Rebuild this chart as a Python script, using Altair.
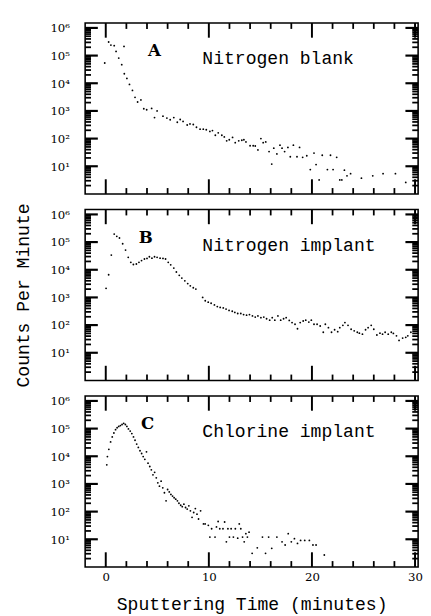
import altair as alt
import pandas as pd

# ---------------- data ----------------
# Panel A: Nitrogen blank
time_a = [-0.1, 0.28, 0.5, 0.82, 1.0, 1.26, 1.55, 1.77, 1.8, 2.05, 2.3, 2.59, 2.84, 3.09, 3.41,
          3.69, 3.97, 4.45, 4.73, 4.98, 5.55, 5.93, 6.25, 6.6, 6.94, 7.22, 7.5, 7.9, 8.17, 8.49,
          8.8, 9.15, 9.46, 9.75, 10.1, 10.35, 10.63, 10.91, 11.26, 11.5, 11.73, 11.98, 12.3, 12.56,
          12.9, 13.2, 13.4, 13.6, 14.0, 14.3, 14.5, 14.76, 15.05, 15.27, 15.52, 15.84, 16.1, 16.3,
          16.6, 16.9, 17.1, 17.35, 17.67, 17.9, 18.2, 18.55, 18.8, 19.1, 19.5, 19.84, 20.2, 20.4,
          20.7, 21.0, 21.5, 21.8, 22.05, 22.4, 22.7, 22.9, 23.15, 23.4, 23.75, 24.8, 25.9, 26.9,
          28.1, 29.1]
counts_a = [54000, 309000, 240000, 229000, 141000, 81000, 47000, 214000, 22000, 15000, 9100, 5500,
            3100, 2100, 2500, 1200, 1100, 1230, 575, 1000, 646, 550, 479, 575, 389, 490, 417, 309,
            339, 324, 257, 219, 219, 209, 182, 195, 132, 162, 132, 115, 83, 91, 110, 71, 83, 87, 91,
            76, 55, 55, 54, 39, 100, 71, 76, 34, 12, 45, 28, 58, 45, 34, 48, 22, 58, 22, 48, 21, 24,
            7.6, 30, 11.5, 3.2, 25, 7.6, 25, 7.6, 21, 3.2, 3.2, 7.2, 4.5, 5.4, 3.7, 4.5, 5.4, 5.4, 2.6]

# Panel B: Nitrogen implant
time_b = [0.03, 0.28, 0.54, 0.82, 1.07, 1.33, 1.64, 1.92, 2.18, 2.43, 2.68, 2.97, 3.22, 3.47, 3.75,
          4.0, 4.23, 4.48, 4.73, 4.98, 5.27, 5.55, 5.8, 6.06, 6.3, 6.6, 6.85, 7.13, 7.38, 7.67, 7.95,
          8.2, 8.49, 8.74, 9.4, 9.65, 9.94, 10.22, 10.54, 10.82, 11.1, 11.4, 11.67, 11.96, 12.27,
          12.52, 12.8, 13.1, 13.37, 13.66, 13.94, 14.23, 14.5, 14.76, 15.05, 15.33, 15.6, 15.9,
          16.15, 16.4, 16.7, 16.97, 17.25, 17.5, 17.8, 18.07, 18.36, 18.6, 18.86, 19.15, 19.4, 19.7,
          19.94, 20.2, 20.5, 20.8, 21.1, 21.3, 21.6, 21.9, 22.2, 22.5, 22.7, 23.0, 23.2, 23.5, 23.8,
          24.1, 24.4, 24.6, 24.9, 25.2, 25.45, 25.75, 26.0, 26.3, 26.6, 26.85, 27.1, 27.4, 27.7,
          27.9, 28.2, 28.45, 28.8, 29.1, 29.3, 29.6]
counts_b = [2140, 6610, 33900, 195000, 162000, 141000, 87100, 51300, 28200, 18600, 15500, 16200,
            18600, 21400, 24500, 25700, 29500, 26300, 29500, 28200, 26300, 25700, 24500, 18600,
            15100, 11500, 8320, 6310, 5010, 3980, 3160, 2630, 2240, 2000, 1000, 759, 676, 617, 537,
            468, 437, 417, 380, 339, 316, 288, 263, 263, 240, 229, 240, 214, 195, 214, 186, 195,
            170, 151, 186, 151, 214, 151, 170, 186, 148, 123, 107, 74, 123, 141, 151, 129, 151, 107,
            107, 93, 55, 107, 81, 55, 68, 58, 81, 98, 123, 98, 71, 62, 55, 51, 47, 68, 81, 98, 71,
            44, 51, 47, 55, 47, 55, 50, 41, 28, 34, 36, 41, 55]

# Panel C: Chlorine implant
time_c = [0.1, 0.16, 0.3, 0.47, 0.63, 0.79, 0.95, 1.1, 1.26, 1.42, 1.58, 1.74, 1.9, 2.05, 2.2, 2.37,
          2.53, 2.69, 2.84, 3.0, 3.16, 3.32, 3.48, 3.63, 3.79, 3.95, 4.1, 4.27, 4.42, 4.58, 4.74,
          4.9, 5.05, 5.21, 5.37, 5.53, 5.69, 5.85, 6.0, 6.16, 6.32, 6.48, 6.63, 6.79, 6.95, 7.1,
          7.27, 7.42, 7.58, 7.74, 7.9, 8.06, 8.21, 8.37, 8.53, 8.69, 8.85, 9.0, 9.2, 9.48, 9.64,
          9.95, 10.1, 10.27, 10.6, 10.74, 10.9, 11.06, 11.37, 11.53, 11.7, 11.85, 12.0, 12.16,
          12.38, 12.57, 12.8, 12.95, 13.1, 13.27, 13.43, 13.59, 13.74, 13.9, 14.2, 14.7, 15.2,
          15.5, 15.8, 16.1, 16.6, 17.1, 17.4, 17.7, 18.0, 18.3, 18.6, 18.9, 19.3, 19.75, 20.1,
          20.4, 21.2]
counts_c = [4900, 9770, 17800, 33100, 50100, 69200, 91200, 107000, 120000, 129000, 141000, 155000,
            141000, 120000, 97700, 81300, 66100, 50100, 38000, 27500, 20900, 15800, 12600, 9770,
            7760, 14500, 5620, 4270, 3240, 2140, 2630, 1660, 1100, 832, 1260, 724, 479, 245, 631,
            513, 417, 363, 316, 282, 245, 200, 170, 151, 186, 141, 123, 162, 107, 62, 93, 129, 81,
            54, 107, 36, 36, 32, 12, 24, 12, 28, 44, 24, 24, 42, 8.1, 24, 12, 24, 12, 24, 11, 36,
            24, 12, 8.1, 16, 12, 18, 3.1, 4.9, 12, 3.1, 12, 4.7, 12, 8.1, 6.2, 16, 8.1, 10.5, 7.1,
            9.1, 9.1, 9.1, 6.2, 6.2, 2.7]

panel_letters = ["A", "B", "C"]
panel_names = ["Nitrogen blank", "Nitrogen implant", "Chlorine implant"]

x_major = [0, 10, 20, 30]
x_minor = [2, 4, 6, 8, 12, 14, 16, 18, 22, 24, 26, 28]
y_major = [10, 100, 1000, 10000, 100000, 1000000]
y_minor = [k * 10 ** n for n in range(0, 6) for k in range(2, 10)]

# ---------------- styling ----------------
W, H = 341, 175
XDOM = [-2.0, 30.3]
YDOM = [1, 1.5e6]
MONO = "Liberation Mono"
SERIF = "DejaVu Serif"

xs = alt.Scale(domain=XDOM, nice=False, zero=False)
ys = alt.Scale(type="log", domain=YDOM, nice=False)

sup_expr = "'10' + ['\u2070','\u00b9','\u00b2','\u00b3','\u2074','\u2075','\u2076'][round(log(datum.value)/LN10)]"


def panel(t, c, letter, letter_x, name, bottom, ytitle):
    xaxis_kw = dict(values=x_major, ticks=False, domain=False, grid=False, labels=bottom,
                    labelFont=SERIF, labelFontSize=12, labelPadding=5, labelColor="black",
                    labelFlush=False, titleFont=MONO, titleFontSize=18.5,
                    titleFontWeight="normal", titleColor="black", titlePadding=13)
    yaxis_kw = dict(values=y_major, ticks=False, domain=False, grid=False,
                    labelExpr=sup_expr, labelFont=SERIF, labelFontSize=12, labelPadding=16,
                    labelColor="black", titleFont=MONO, titleFontSize=18.5,
                    titleFontWeight="normal", titleColor="black", titlePadding=18)
    xt = "Sputtering Time (minutes)" if bottom else ""
    yt = "Counts Per Minute" if ytitle else ""

    df = pd.DataFrame({"t": t, "c": c})
    pts = alt.Chart(df).mark_circle(size=3.5, color="black", opacity=1).encode(
        x=alt.X("t:Q", scale=xs, axis=alt.Axis(**xaxis_kw), title=xt),
        y=alt.Y("c:Q", scale=ys, axis=alt.Axis(**yaxis_kw), title=yt),
    )

    def x_ticks(vals, L, top, sw):
        y0 = 0 if top else H
        y1 = L if top else H - L
        return alt.Chart(pd.DataFrame({"t": vals})).mark_rule(
            strokeWidth=sw, color="black"
        ).encode(x=alt.X("t:Q", scale=xs, title=xt), y=alt.value(y0), y2=alt.value(y1))

    def y_ticks(vals, L, right, sw):
        x0 = W if right else 0
        x1 = W - L if right else L
        return alt.Chart(pd.DataFrame({"c": vals})).mark_rule(
            strokeWidth=sw, color="black"
        ).encode(y=alt.Y("c:Q", scale=ys, title=yt), x=alt.value(x0), x2=alt.value(x1))

    frame = alt.Chart(pd.DataFrame({"s": [letter]})).mark_rect(
        filled=False, color="black", strokeWidth=1.6
    ).encode(x=alt.value(0), x2=alt.value(W), y=alt.value(0), y2=alt.value(H))

    let = alt.Chart(pd.DataFrame({"s": [letter]})).mark_text(
        font=SERIF, fontWeight="bold", fontSize=17, align="center", baseline="middle", color="black"
    ).encode(x=alt.value(letter_x), y=alt.value(29), text="s:N")
    nm = alt.Chart(pd.DataFrame({"s": [name]})).mark_text(
        font=MONO, fontSize=18.5, align="left", baseline="alphabetic", color="black"
    ).encode(x=alt.value(120), y=alt.value(42), text="s:N")
    layers = [pts,
              x_ticks(x_major, 15, False, 2), x_ticks(x_major, 15, True, 2),
              x_ticks(x_minor, 6, False, 1.8), x_ticks(x_minor, 6, True, 1.8),
              y_ticks(y_major, 13, False, 2.2), y_ticks(y_major, 13, True, 2.2),
              y_ticks(y_minor, 6, False, 1.8), y_ticks(y_minor, 6, True, 1.8),
              frame, let, nm]
    return alt.layer(*layers).properties(width=W, height=H)


pa = panel(time_a, counts_a, panel_letters[0], 71, panel_names[0], False, False)
pb = panel(time_b, counts_b, panel_letters[1], 62, panel_names[1], False, True)
pc = panel(time_c, counts_c, panel_letters[2], 64, panel_names[2], True, False)

chart = alt.vconcat(pa, pb, pc, spacing=16, bounds="flush").properties(
    padding={"left": 5, "top": 6, "right": 0, "bottom": 2},
    background="white",
).configure_view(stroke="transparent")

chart.save("out.html", embed_options={"renderer": "svg", "actions": False})
